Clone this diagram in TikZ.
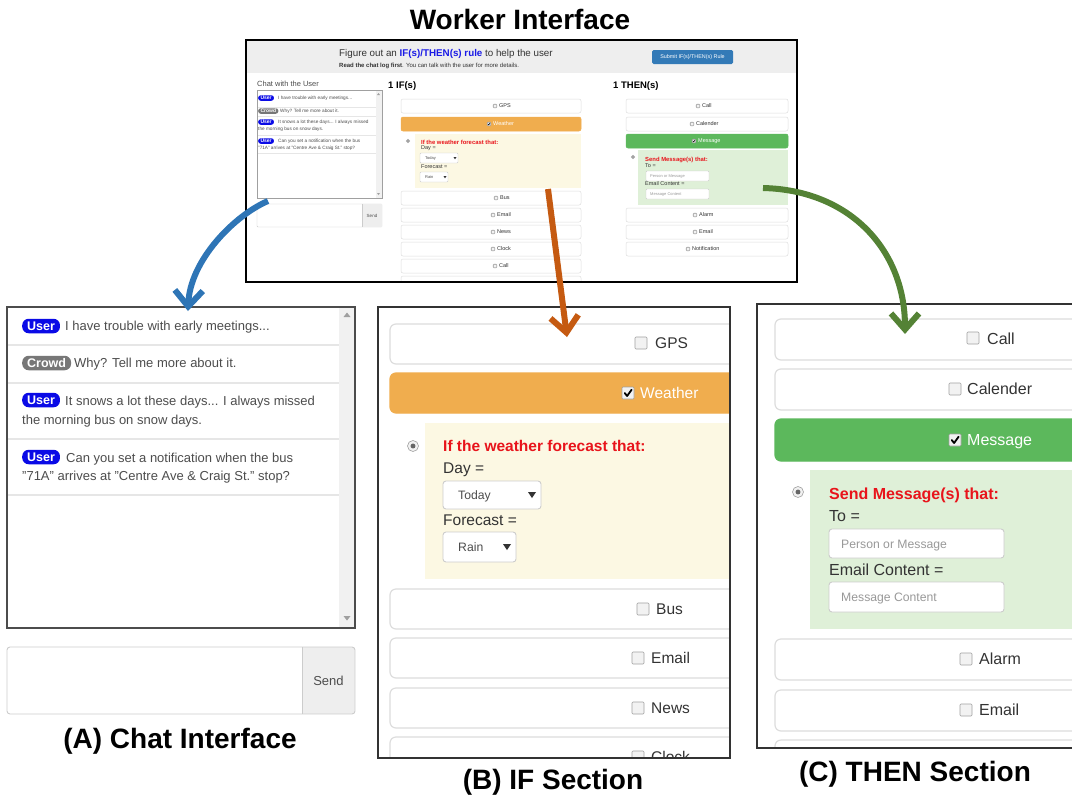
\documentclass[tikz,border=0pt]{standalone}
\usepackage{fontspec}
\setmainfont{Liberation Sans}
\usepackage{tikz}
\usetikzlibrary{arrows.meta}

\definecolor{rowline}{HTML}{DDDDDD}
\definecolor{fieldline}{HTML}{CCCCCC}
\definecolor{itemtxt}{HTML}{333333}
\definecolor{chattxt}{HTML}{4D4D4D}
\definecolor{holdgray}{HTML}{999999}
\definecolor{ifbar}{HTML}{F0AD4E}
\definecolor{ifpanel}{HTML}{FCF8E3}
\definecolor{thenbar}{HTML}{5CB85C}
\definecolor{thenpanel}{HTML}{DFF0D8}
\definecolor{userblue}{HTML}{0A0AE6}
\definecolor{crowdgray}{HTML}{777777}
\definecolor{headgray}{HTML}{EEEEEE}
\definecolor{btnblue}{HTML}{337AB7}
\definecolor{ruleblue}{HTML}{1A1AE6}
\definecolor{alertred}{HTML}{E8141B}
\definecolor{sepgray}{HTML}{E6E6E6}
\definecolor{scrollgray}{HTML}{F1F1F1}
\definecolor{boxgray}{HTML}{A0A0A0}
\definecolor{boxfill}{HTML}{F2F2F2}
\definecolor{dotgray}{HTML}{666666}
\definecolor{arrblue}{HTML}{2E75B6}
\definecolor{arrorange}{HTML}{C55A11}
\definecolor{arrgreen}{HTML}{548235}

\tikzset{
  fs/.style={inner sep=0pt, font=\fontsize{#1}{#1}\selectfont, text height=#1*0.72pt, text depth=0pt},
  fsb/.style={inner sep=0pt, font=\fontsize{#1}{#1}\selectfont\bfseries, text height=#1*0.72pt, text depth=0pt},
  caption/.style={fsb=28, text=black},
  optrow/.style={draw=rowline, fill=white, line width=1.2pt, rounded corners=6pt},
  soptrow/.style={draw=rowline, fill=white, line width=0.5pt, rounded corners=2pt},
  fld/.style={draw=fieldline, fill=white, line width=0.9pt, rounded corners=3pt},
  sfld/.style={draw=fieldline, fill=white, line width=0.4pt, rounded corners=1pt},
  chat/.style={fs=13, text=chattxt, anchor=west},
  schat/.style={fs=4.7, text=chattxt, anchor=west},
  optlabel/.style={fs=15.5, text=itemtxt, anchor=west},
  thenlabel/.style={fs=16, text=itemtxt, anchor=west},
  soptlabel/.style={fs=5.5, text=itemtxt, anchor=west},
  badge/.style={fill=#1, text=white, font=\fontsize{12.5}{12.5}\selectfont\bfseries,
    rounded corners=6.5pt, inner xsep=5pt, inner ysep=0pt, text height=9pt,
    text depth=0pt, minimum height=14.5pt, anchor=west},
  sbadge/.style={fill=#1, text=white, font=\fontsize{5}{5}\selectfont\bfseries,
    rounded corners=2.5pt, inner xsep=2.3pt, inner ysep=0pt, text height=3.6pt,
    text depth=0pt, minimum height=5.5pt, anchor=west},
  flow/.style={line width=6pt, -{Straight Barb[length=16pt, width=28pt]}},
  cbox/.pic={\draw[draw=boxgray, fill=boxfill, line width=0.6pt, rounded corners=1pt]
    (-#1,-#1) rectangle (#1,#1);},
  cboxon/.pic={\draw[draw=boxgray, fill=boxfill, line width=0.6pt, rounded corners=1pt]
    (-#1,-#1) rectangle (#1,#1);
    \draw[black, line width=#1*0.3pt, line cap=round, line join=round]
    (-0.55*#1,0) -- (-0.15*#1,0.5*#1) -- (0.6*#1,-0.55*#1);},
  radio/.pic={\draw[draw=boxgray, fill=boxfill, line width=0.6pt] (0,0) circle[radius=#1pt];
    \fill[dotgray] (0,0) circle[radius=0.45*#1pt];},
}

\begin{document}
\begin{tikzpicture}[x=1pt, y=-1pt]
\useasboundingbox (0,0) rectangle (1072,796);

% worker interface
\node[fsb=28] (title) at (520,19) {Worker Interface};
\begin{scope}
  \clip (246,40) rectangle (797,282);
  \fill[white] (246,40) rectangle (797,282);
  \fill[headgray] (246,40) rectangle (797,73);
  \node[fs=9.8, anchor=west, text=itemtxt] (head) at (339,53)
    {Figure out an \textcolor{ruleblue}{\bfseries IF(s)/THEN(s) rule} to help the user};
  \node[fs=6, anchor=west, text=itemtxt] (hint) at (339,65)
    {\textbf{Read the chat log first}. You can talk with the user for more details.};
  \node[fs=5.4, text=white, fill=btnblue, rounded corners=1.5pt,
    minimum width=81pt, minimum height=14pt] (submit) at (692.5,57) {Submit IF(s)/THEN(s) Rule};

  % small chat
  \node[fs=7.5, anchor=west, text=chattxt] (schathead) at (257,84) {Chat with the User};
  \draw[draw=boxgray, fill=white, line width=0.7pt] (257,90) rectangle (382,198);
  \fill[scrollgray] (376,90.5) rectangle (381.5,197.5);
  \fill[boxgray] (377,95) -- (380,95) -- (378.5,93) -- cycle;
  \fill[boxgray] (377,193) -- (380,193) -- (378.5,195) -- cycle;
  \foreach \y in {107,116,135,153}
    \draw[sepgray, line width=0.6pt] (258,\y) -- (375.5,\y);
  \node[sbadge=userblue] (sb1) at (258,98) {User};
  \node[schat] (sm1) at (278,98) {I have trouble with early meetings...};
  \node[sbadge=crowdgray] (sb2) at (258,111) {Crowd};
  \node[schat] (sm2) at (280,111) {Why? Tell me more about it.};
  \node[sbadge=userblue] (sb3) at (258,122) {User};
  \node[schat] (sm3) at (278,122) {It snows a lot these days... I always missed};
  \node[schat] (sm3b) at (258,129) {the morning bus on snow days.};
  \node[sbadge=userblue] (sb4) at (258,141) {User};
  \node[schat] (sm4) at (278,141) {Can you set a notification when the bus};
  \node[schat] (sm4b) at (258,148) {"71A" arrives at "Centre Ave \& Craig St." stop?};
  \draw[sfld] (257,204) rectangle (382,227);
  \fill[headgray] (362,204.3) rectangle (381.7,226.7);
  \draw[fieldline, line width=0.4pt] (362,204) -- (362,227);
  \node[fs=4.5, text=chattxt] (ssend) at (372,215.5) {Send};

  % small if column
  \node[fsb=9.5, anchor=west, text=black] (sif) at (388,85) {1 IF(s)};
  \draw[soptrow] (401,99) rectangle (581,113);
  \pic at (495,106) {cbox=1.8};
  \node[soptlabel] (sgps) at (499,106) {GPS};
  \draw[soptrow, fill=ifbar, draw=ifbar] (401,117) rectangle (581,131);
  \pic at (489,124) {cboxon=1.8};
  \node[soptlabel, text=white] (sweather) at (493,124) {Weather};
  \fill[ifpanel] (415,134) rectangle (581,188);
  \pic at (408,141) {radio=1.8};
  \node[fsb=5.9, anchor=west, text=alertred] (sifq) at (421,142) {If the weather forecast that:};
  \node[soptlabel] (sday) at (421,148) {Day =};
  \draw[sfld] (420,153) rectangle (458,163);
  \node[fs=4, anchor=west, text=chattxt] (stoday) at (425,158) {Today};
  \fill[itemtxt] (453.5,157) -- (456.5,157) -- (455,159.3) -- cycle;
  \node[soptlabel] (sforecast) at (421,167) {Forecast =};
  \draw[sfld] (420,172) rectangle (448,182);
  \node[fs=4, anchor=west, text=chattxt] (srain) at (425,177) {Rain};
  \fill[itemtxt] (443.5,176) -- (446.5,176) -- (445,178.3) -- cycle;
  \foreach \y/\cx/\lab in {191/496/Bus, 208/493/Email, 225/493/News, 242/493/Clock, 259/495/Call} {
    \draw[soptrow] (401,\y) rectangle (581,\y+14);
    \pic at (\cx,\y+7) {cbox=1.8};
    \node[soptlabel] (sif\lab) at (\cx+4,\y+7) {\lab};
  }
  \draw[soptrow] (401,276) rectangle (581,290);

  % small then column
  \node[fsb=9.5, anchor=west, text=black] (sthen) at (613,85) {1 THEN(s)};
  \draw[soptrow] (626,99) rectangle (788,113);
  \pic at (698,106) {cbox=1.8};
  \node[soptlabel] (scall) at (702,106) {Call};
  \draw[soptrow] (626,117) rectangle (788,131);
  \pic at (692,124) {cbox=1.8};
  \node[soptlabel] (scalender) at (696,124) {Calender};
  \draw[soptrow, fill=thenbar, draw=thenbar] (626,134) rectangle (788,148);
  \pic at (694,141) {cboxon=1.8};
  \node[soptlabel, text=white] (smessage) at (698,141) {Message};
  \fill[thenpanel] (638,150) rectangle (788,205);
  \pic at (633,157) {radio=1.8};
  \node[fsb=5.9, anchor=west, text=alertred] (ssendq) at (645,159) {Send Message(s) that:};
  \node[soptlabel] (sto) at (645,166) {To =};
  \draw[sfld] (646,171) rectangle (709,181);
  \node[fs=4, anchor=west, text=holdgray] (stoph) at (650,176) {Person or Message};
  \node[soptlabel] (semail) at (645,184) {Email Content =};
  \draw[sfld] (646,189) rectangle (709,199);
  \node[fs=4, anchor=west, text=holdgray] (semailph) at (650,194) {Message Content};
  \foreach \y/\cx/\lab in {208/695/Alarm, 225/695/Email, 242/688/Notification} {
    \draw[soptrow] (626,\y) rectangle (788,\y+14);
    \pic at (\cx,\y+7) {cbox=1.8};
    \node[soptlabel] (sthen\lab) at (\cx+4,\y+7) {\lab};
  }
\end{scope}
\draw[black, line width=1.5pt] (246,40) rectangle (797,282);

% (A) chat interface
\fill[white] (7,307) rectangle (355,628);
\fill[scrollgray] (339,308) rectangle (354,627);
\fill[boxgray] (343.5,317) -- (350.5,317) -- (347,312.5) -- cycle;
\fill[boxgray] (343.5,616) -- (350.5,616) -- (347,620.5) -- cycle;
\foreach \y in {345,383,439,495}
  \draw[sepgray, line width=1.6pt] (8,\y) -- (339,\y);
\node[badge=userblue] (b1) at (22,326) {User};
\node[chat] (m1) at (65,326) {I have trouble with early meetings...};
\node[badge=crowdgray] (b2) at (22,363) {Crowd};
\node[chat] (m2) at (74,363) {Why? Tell me more about it.};
\node[badge=userblue] (b3) at (22,400) {User};
\node[chat] (m3) at (65,401) {It snows a lot these days... I always missed};
\node[chat] (m3b) at (22,420) {the morning bus on snow days.};
\node[badge=userblue] (b4) at (22,457) {User};
\node[chat] (m4) at (66,458) {Can you set a notification when the bus};
\node[chat] (m4b) at (22,476) {"71A" arrives at "Centre Ave \& Craig St." stop?};
\draw[black!70, line width=1.8pt] (7,307) rectangle (355,628);

\begin{scope}
  \clip[rounded corners=3pt] (7,647) rectangle (355,714);
  \fill[white] (7,647) rectangle (302,714);
  \fill[headgray] (302,647) rectangle (355,714);
\end{scope}
\draw[fieldline, line width=0.9pt, rounded corners=3pt] (7,647) rectangle (355,714);
\draw[fieldline, line width=0.9pt] (302,647) -- (302,714);
\node[fs=13, text=chattxt] (send) at (328.5,681) {Send};
\node[caption] (capA) at (180,738) {(A) Chat Interface};

% (B) IF section
\begin{scope}
  \clip (378,307) rectangle (730,758);
  \fill[white] (378,307) rectangle (730,758);
  \draw[optrow] (390,324) rectangle (745,364);
  \pic at (641,343) {cbox=6};
  \node[optlabel] (gps) at (655,343) {GPS};
  \draw[optrow, fill=ifbar, draw=ifbar] (390,373) rectangle (745,413);
  \pic at (628,393) {cboxon=6};
  \node[optlabel, text=white] (weather) at (640,393) {Weather};
  \fill[ifpanel] (425,423) rectangle (745,579);
  \pic at (413,446) {radio=5.5};
  \node[fsb=15.5, anchor=west, text=alertred] (ifq) at (443,446) {If the weather forecast that:};
  \node[optlabel] (day) at (443,468) {Day =};
  \draw[fld] (443,481) rectangle (541,509);
  \node[fs=12.2, anchor=west, text=chattxt] (today) at (458,495) {Today};
  \fill[itemtxt] (528,492) -- (536,492) -- (532,498) -- cycle;
  \node[optlabel] (forecast) at (443,520) {Forecast =};
  \draw[fld] (443,532) rectangle (516,562);
  \node[fs=12.2, anchor=west, text=chattxt] (rain) at (458,547) {Rain};
  \fill[itemtxt] (503,544) -- (511,544) -- (507,550) -- cycle;
  \foreach \y/\cx/\lab in {589/643/Bus, 638/638/Email, 688/638/News, 737/638/Clock} {
    \draw[optrow] (390,\y) rectangle (745,\y+40);
    \pic at (\cx,\y+20) {cbox=6};
    \node[optlabel] (if\lab) at (\cx+13,\y+20) {\lab};
  }
\end{scope}
\draw[black!80, line width=1.5pt] (378,307) rectangle (730,758);
\node[caption] (capB) at (553,779) {(B) IF Section};

% (C) THEN section
\begin{scope}
  \clip (757,304) rectangle (1072,748);
  \fill[white] (757,304) rectangle (1072,748);
  \draw[optrow] (775,319) rectangle (1085,360);
  \pic at (973,338) {cbox=6};
  \node[thenlabel] (call) at (987,339) {Call};
  \draw[optrow] (775,369) rectangle (1085,410);
  \pic at (955,389) {cbox=6};
  \node[thenlabel] (calender) at (967,389) {Calender};
  \draw[optrow, fill=thenbar, draw=thenbar] (775,419) rectangle (1085,461);
  \pic at (955,440) {cboxon=6};
  \node[thenlabel, text=white] (message) at (967,440) {Message};
  \fill[thenpanel] (810,470) rectangle (1085,629);
  \pic at (798,492) {radio=5.5};
  \node[fsb=16, anchor=west, text=alertred] (sendq) at (829,494) {Send Message(s) that:};
  \node[thenlabel] (to) at (829,516) {To =};
  \draw[fld] (829,529) rectangle (1004,558);
  \node[fs=12.2, anchor=west, text=holdgray] (toph) at (841,544) {Person or Message};
  \node[thenlabel] (emailc) at (829,570) {Email Content =};
  \draw[fld] (829,582) rectangle (1004,612);
  \node[fs=12.2, anchor=west, text=holdgray] (emailph) at (841,597) {Message Content};
  \foreach \y/\cx/\lab in {639/966/Alarm, 690/966/Email} {
    \draw[optrow] (775,\y) rectangle (1085,\y+41);
    \pic at (\cx,\y+20) {cbox=6};
    \node[thenlabel] (then\lab) at (\cx+13,\y+20) {\lab};
  }
  \draw[optrow] (775,740) rectangle (1085,781);
\end{scope}
\draw[black!80, line width=1.5pt] (1072,304) -- (757,304) -- (757,748) -- (1072,748);
\node[caption] (capC) at (915,771) {(C) THEN Section};

% arrows
\coordinate (chatfrom) at (268,201);
\coordinate (chatto) at (188,311);
\coordinate (iffrom) at (548,189);
\coordinate (ifto) at (567,337);
\coordinate (thenfrom) at (763,188);
\coordinate (thento) at (905,334);
\draw[flow, arrblue] (chatfrom) .. controls (235,215) and (190,260) .. (chatto);
\draw[flow, arrorange] (iffrom) -- (ifto);
\draw[flow, arrgreen] (thenfrom) .. controls (850,190) and (905,250) .. (thento);
\end{tikzpicture}
\end{document}
